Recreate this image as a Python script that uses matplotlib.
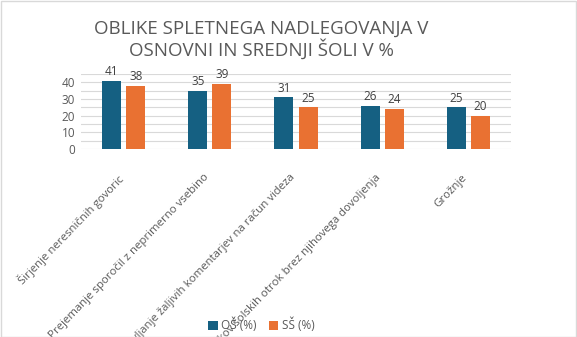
import numpy as np
import matplotlib.pyplot as plt
import matplotlib.transforms as mtransforms
from matplotlib.patches import Rectangle

kategorije = ["Širjenje neresničnih govoric",
              "Prejemanje sporočil z neprimerno vsebino",
              "Objavljanje žaljivih komentarjev na račun videza",
              "Objavljanje posnetkov šolskih otrok brez njihovega dovoljenja",
              "Grožnje"]
os_vals = [41, 35, 31, 26, 25]
ss_vals = [38, 39, 25, 24, 20]
serije = ["OŠ (%)", "SŠ (%)"]

plt.rcParams['font.family'] = ['Open Sans', 'DejaVu Sans']
siva = '#595959'

fig = plt.figure(figsize=(5.77, 3.37), dpi=100)
fig.patches.append(Rectangle((0.001, 0.001), 0.997, 0.996, transform=fig.transFigure,
                             fill=False, edgecolor='#d9d9d9', linewidth=1))
ax = fig.add_axes([0.140, 0.558, 0.746, 0.222])

x = np.arange(len(kategorije))
w = 0.22
b1 = ax.bar(x - 0.14, os_vals, w, color='#156082', label=serije[0], zorder=3)
b2 = ax.bar(x + 0.14, ss_vals, w, color='#E97132', label=serije[1], zorder=3)
ax.bar_label(b1, padding=2, fontsize=8.5, color='#404040')
ax.bar_label(b2, padding=2, fontsize=8.5, color='#404040')

ax.set_xlim(-0.5, len(kategorije) - 0.5)
ax.set_ylim(0, 45)
ax.set_yticks([0, 10, 20, 30, 40])
ax.set_yticks(np.arange(0, 46, 5), minor=True)
ax.grid(axis='y', which='both', color='#d9d9d9', linewidth=0.8, zorder=0)
ax.tick_params(axis='y', which='both', length=0, labelsize=8.5, labelcolor=siva, pad=4)
ax.tick_params(axis='x', length=0, labelsize=8.2, labelcolor=siva, pad=13)
ax.set_xticks(x)
ax.set_xticklabels(kategorije, rotation=46, ha='right', rotation_mode='anchor')
# rahel zamik oznak levo navzdol
zamik = mtransforms.ScaledTranslation(-7 / 100, -5 / 100, fig.dpi_scale_trans)
for lab in ax.get_xticklabels():
    lab.set_transform(lab.get_transform() + zamik)
for s in ax.spines.values():
    s.set_visible(False)

fig.text(0.453, 0.915, "OBLIKE SPLETNEGA NADLEGOVANJA V", ha='center', va='center',
         fontsize=13.5, color=siva)
fig.text(0.453, 0.852, "OSNOVNI IN SREDNJI ŠOLI V %", ha='center', va='center',
         fontsize=13.5, color=siva)

fig.legend(loc='center', bbox_to_anchor=(0.453, 0.035), ncol=2, frameon=False,
           fontsize=8.5, labelcolor=siva, handlelength=0.8, handleheight=0.8,
           handletextpad=0.3, columnspacing=1.0)

fig.savefig('out.png', dpi=100)
